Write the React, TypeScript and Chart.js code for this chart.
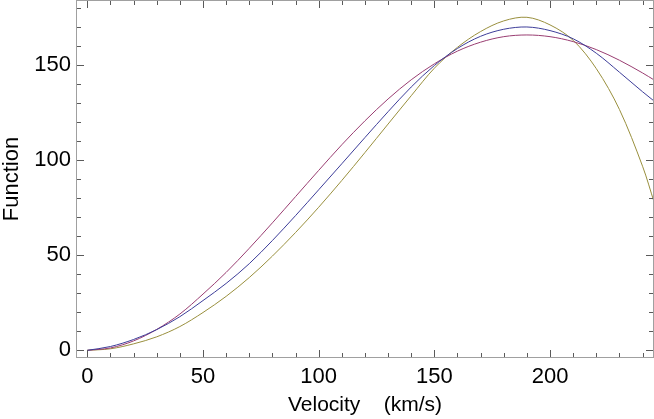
import React, { useEffect, useRef } from "react";
import { Chart, registerables } from "chart.js";

Chart.register(...registerables);

// Velocity (km/s) sample positions
const velocity = [0, 10, 20, 30, 40, 50, 60, 70, 80, 90, 100, 110, 120, 130, 140, 150, 160, 170, 180, 190, 200, 210, 220, 230, 240, 245];

// Series
const seriesBlue = [0, 2.0, 5.7, 10.9, 17.7, 26.2, 35.2, 45.6, 57.8, 70.9, 84.5, 98.2, 112.0, 125.6, 138.6, 149.9, 158.9, 165.3, 169.0, 170.2, 168.3, 164.0, 156.4, 146.4, 136.1, 131.2];
const seriesPurple = [0, 1.25, 4.95, 11.0, 19.1, 29.6, 41.0, 53.7, 67.1, 80.9, 94.7, 108.2, 120.8, 132.3, 142.4, 150.8, 157.5, 162.2, 165.1, 166.0, 165.1, 162.5, 158.3, 152.7, 146.0, 142.3];
const seriesOlive = [0, 0.8, 3.4, 7.1, 12.5, 19.9, 28.4, 38.3, 49.6, 62.0, 75.3, 89.4, 104.1, 119.1, 134.0, 148.5, 159.5, 167.8, 173.4, 175.3, 171.3, 163.2, 148.3, 126.8, 96.9, 78.0];

// Ticks
const xMajorTicks = [0, 50, 100, 150, 200];
const xMinorTicks = [0, 10, 20, 30, 40, 50, 60, 70, 80, 90, 100, 110, 120, 130, 140, 150, 160, 170, 180, 190, 200, 210, 220, 230, 240];
const yMajorTicks = [0, 50, 100, 150];
const yMinorTicks = [0, 10, 20, 30, 40, 50, 60, 70, 80, 90, 100, 110, 120, 130, 140, 150, 160, 170, 180];

const xTitle = "Velocity    (km/s)";
const yTitle = "Function";

const FONT = "'Liberation Sans', Arial, Helvetica, sans-serif";

const framePlugin = {
  id: "mmaFrame",
  afterDatasetsDraw(chart: any) {
    const { ctx, chartArea: a, scales } = chart;
    const x = scales.x;
    const y = scales.y;
    ctx.save();
    ctx.lineWidth = 1;
    ctx.strokeStyle = "#5a5a5a";
    ctx.beginPath();
    for (const v of xMinorTicks) {
      const len = xMajorTicks.includes(v) ? 7 : 4;
      const px = Math.round(x.getPixelForValue(v)) + 0.5;
      ctx.moveTo(px, a.bottom - 1);
      ctx.lineTo(px, a.bottom - 1 - len);
      ctx.moveTo(px, a.top + 1);
      ctx.lineTo(px, a.top + 1 + len);
    }
    for (const v of yMinorTicks) {
      const len = yMajorTicks.includes(v) ? 7 : 4;
      const py = Math.round(y.getPixelForValue(v)) + 0.5;
      ctx.moveTo(a.left + 1, py);
      ctx.lineTo(a.left + 1 + len, py);
      ctx.moveTo(a.right - 1, py);
      ctx.lineTo(a.right - 1 - len, py);
    }
    ctx.stroke();
    ctx.strokeStyle = "#a0a0a0";
    ctx.strokeRect(a.left + 0.5, a.top + 0.5, a.right - a.left - 1, a.bottom - a.top - 1);
    ctx.restore();
  },
};

export default function App() {
  const canvasRef = useRef<HTMLCanvasElement | null>(null);

  useEffect(() => {
    const canvas = canvasRef.current;
    if (!canvas) return;
    const mk = (data: number[]) => velocity.map((v, i) => ({ x: v, y: data[i] }));
    const line = { borderWidth: 1, pointRadius: 0, tension: 0.33, fill: false };
    const chart = new Chart(canvas, {
      type: "line",
      data: {
        datasets: [
          { label: "blue", data: mk(seriesBlue), borderColor: "#3d3d99", ...line },
          { label: "purple", data: mk(seriesPurple), borderColor: "#993d71", ...line },
          { label: "olive", data: mk(seriesOlive), borderColor: "#998f3d", ...line },
        ],
      },
      options: {
        animation: false,
        responsive: false,
        maintainAspectRatio: false,
        devicePixelRatio: 1,
        layout: { padding: { left: 0, right: 0, top: 0, bottom: 0 } },
        plugins: { legend: { display: false }, tooltip: { enabled: false } },
        events: [],
        scales: {
          x: {
            type: "linear",
            min: -4.9,
            max: 244.95,
            grid: { display: false, drawTicks: false },
            border: { display: false },
            ticks: {
              color: "#000",
              font: { family: FONT, size: 22 },
              padding: 6,
              maxRotation: 0,
              autoSkip: false,
              callback: (v: any) => String(v),
            },
            afterBuildTicks: (scale: any) => {
              scale.ticks = xMajorTicks.map((v) => ({ value: v }));
            },
            afterFit: (scale: any) => {
              scale.height = 61;
              scale.paddingLeft = 0;
              scale.paddingRight = 0;
            },
            title: {
              display: true,
              text: xTitle,
              color: "#000",
              font: { family: FONT, size: 21 },
              padding: { top: 0, bottom: 1 },
            },
          },
          y: {
            type: "linear",
            min: -4.05,
            max: 184.4,
            grid: { display: false, drawTicks: false },
            border: { display: false },
            ticks: {
              color: "#000",
              font: { family: FONT, size: 22 },
              padding: 5,
              autoSkip: false,
              callback: (v: any) => String(v),
            },
            afterBuildTicks: (scale: any) => {
              scale.ticks = yMajorTicks.map((v) => ({ value: v }));
            },
            afterFit: (scale: any) => {
              scale.width = 76;
              scale.paddingTop = 0;
              scale.paddingBottom = 0;
            },
            title: {
              display: true,
              text: yTitle,
              color: "#000",
              font: { family: FONT, size: 22, lineHeight: 1.1 },
              padding: { top: 0, bottom: 0 },
            },
          },
        },
      },
      plugins: [framePlugin],
    } as any);
    return () => chart.destroy();
  }, []);

  return (
    <div style={{ position: "absolute", left: 0, top: 0, width: 654, height: 419, background: "#fff" }}>
      <canvas ref={canvasRef} width={654} height={419} style={{ display: "block", width: 654, height: 419 }} />
    </div>
  );
}
